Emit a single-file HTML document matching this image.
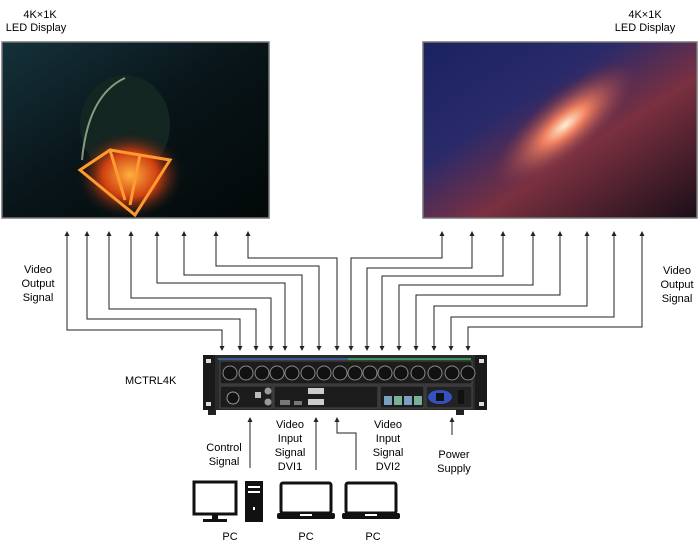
<!DOCTYPE html>
<html><head><meta charset="utf-8"><style>
body{margin:0;background:#fff;width:700px;height:545px;overflow:hidden;font-family:"Liberation Sans",sans-serif}
svg{display:block}
</style></head><body>
<svg width="700" height="545" viewBox="0 0 700 545" xmlns="http://www.w3.org/2000/svg" font-family="Liberation Sans, sans-serif">
<defs>
<radialGradient id="fire" cx="0.5" cy="0.5" r="0.5">
<stop offset="0" stop-color="#ffb040"/><stop offset="0.5" stop-color="#d04010"/><stop offset="1" stop-color="#0a1518" stop-opacity="0"/>
</radialGradient>
<linearGradient id="lbg" x1="0" y1="0" x2="1" y2="1">
<stop offset="0" stop-color="#15313a"/><stop offset="0.5" stop-color="#081418"/><stop offset="1" stop-color="#030808"/>
</linearGradient>
<linearGradient id="rbg" x1="0" y1="0" x2="1" y2="1">
<stop offset="0" stop-color="#1a2260"/><stop offset="0.35" stop-color="#2a2a6a"/><stop offset="0.6" stop-color="#7a3040"/><stop offset="1" stop-color="#1a0e18"/>
</linearGradient>
<radialGradient id="glow" cx="0.5" cy="0.5" r="0.5">
<stop offset="0" stop-color="#fff0d0"/><stop offset="0.3" stop-color="#f08060"/><stop offset="1" stop-color="#803040" stop-opacity="0"/>
</radialGradient>
<marker id="ar" markerWidth="5" markerHeight="5" refX="4" refY="2.5" orient="auto-start-reverse" markerUnits="userSpaceOnUse"><path d="M0,0 L5,2.5 L0,5 z" fill="#222"/></marker>
</defs>

<text x="40" y="18" font-size="11" text-anchor="middle">4K×1K</text>
<text x="36" y="31" font-size="11" text-anchor="middle">LED Display</text>
<text x="645" y="18" font-size="11" text-anchor="middle">4K×1K</text>
<text x="645" y="31" font-size="11" text-anchor="middle">LED Display</text>

<rect x="2" y="42" width="267" height="176" fill="url(#lbg)" stroke="#777" stroke-width="1.5"/>
<ellipse cx="125" cy="125" rx="45" ry="50" fill="#142622"/>
<path d="M82,160 Q88,95 125,78" stroke="#8a9a80" stroke-width="2" fill="none"/>
<ellipse cx="130" cy="175" rx="55" ry="45" fill="url(#fire)"/>
<path d="M80,170 L110,150 L170,160 L135,215 Z M110,150 L125,200 M140,155 L130,205" fill="none" stroke="#ff9a30" stroke-width="3"/>

<rect x="423" y="42" width="274" height="176" fill="url(#rbg)" stroke="#777" stroke-width="1.5"/>
<ellipse cx="565" cy="125" rx="90" ry="32" transform="rotate(-40 565 125)" fill="url(#glow)"/>

<text x="38" y="273" font-size="11" text-anchor="middle">Video</text>
<text x="38" y="287" font-size="11" text-anchor="middle">Output</text>
<text x="38" y="301" font-size="11" text-anchor="middle">Signal</text>
<text x="677" y="274" font-size="11" text-anchor="middle">Video</text>
<text x="677" y="288" font-size="11" text-anchor="middle">Output</text>
<text x="677" y="302" font-size="11" text-anchor="middle">Signal</text>

<g stroke="#222" stroke-width="1" fill="none" marker-start="url(#ar)" marker-end="url(#ar)">
<polyline points="67,232 67,330 222,330 222,350"/>
<polyline points="87,232 87,319 240,319 240,350"/>
<polyline points="109,232 109,309 256,309 256,350"/>
<polyline points="131,232 131,298 271,298 271,350"/>
<polyline points="157,232 157,283 285,283 285,350"/>
<polyline points="184,232 184,275 302,275 302,350"/>
<polyline points="216,232 216,266 319,266 319,350"/>
<polyline points="248,232 248,258 337,258 337,350"/>
<polyline points="442,232 442,258 351,258 351,350"/>
<polyline points="472,232 472,268 367,268 367,350"/>
<polyline points="503,232 503,276 382,276 382,350"/>
<polyline points="533,232 533,285 399,285 399,350"/>
<polyline points="560,232 560,295 416,295 416,350"/>
<polyline points="587,232 587,306 434,306 434,350"/>
<polyline points="614,232 614,317 451,317 451,350"/>
<polyline points="642,232 642,327 468,327 468,350"/>
</g>

<text x="125" y="384" font-size="11">MCTRL4K</text>

<!-- device -->
<rect x="208" y="409" width="8" height="6" fill="#222"/>
<rect x="456" y="409" width="8" height="6" fill="#222"/>
<rect x="203" y="355" width="284" height="55" fill="#2a2a2a"/>
<rect x="203" y="355" width="12" height="55" fill="#1a1a1a"/>
<rect x="475" y="355" width="12" height="55" fill="#1a1a1a"/>
<rect x="206" y="359" width="5" height="4" fill="#ddd"/><rect x="206" y="402" width="5" height="4" fill="#ddd"/>
<rect x="479" y="359" width="5" height="4" fill="#ddd"/><rect x="479" y="402" width="5" height="4" fill="#ddd"/>
<rect x="218" y="358" width="130" height="2" fill="#3a5a9a"/>
<rect x="348" y="358" width="123" height="2" fill="#3a9a5a"/>
<rect x="220" y="361" width="252" height="23" fill="#1c1c1c" stroke="#555" stroke-width="0.8"/>
<g fill="#111" stroke="#888" stroke-width="1">
<circle cx="230" cy="373" r="7"/><circle cx="246" cy="373" r="7"/><circle cx="262" cy="373" r="7"/><circle cx="277" cy="373" r="7"/>
<circle cx="292" cy="373" r="7"/><circle cx="308" cy="373" r="7"/><circle cx="324" cy="373" r="7"/><circle cx="340" cy="373" r="7"/>
<circle cx="355" cy="373" r="7"/><circle cx="370" cy="373" r="7"/><circle cx="385" cy="373" r="7"/><circle cx="401" cy="373" r="7"/>
<circle cx="418" cy="373" r="7"/><circle cx="435" cy="373" r="7"/><circle cx="452" cy="373" r="7"/><circle cx="468" cy="373" r="7"/>
</g>
<rect x="220" y="386" width="52" height="22" fill="#1c1c1c" stroke="#555" stroke-width="0.8"/>
<circle cx="233" cy="398" r="6" fill="#111" stroke="#999"/>
<rect x="255" y="392" width="6" height="6" fill="#bbb"/>
<circle cx="268" cy="391" r="3.5" fill="#999"/><circle cx="268" cy="402" r="3.5" fill="#999"/>
<rect x="274" y="386" width="104" height="22" fill="#1c1c1c" stroke="#555" stroke-width="0.8"/>
<rect x="280" y="400" width="10" height="5" fill="#777"/><rect x="294" y="401" width="8" height="4" fill="#777"/>
<rect x="308" y="388" width="16" height="6" fill="#ccc"/><rect x="308" y="399" width="16" height="6" fill="#ccc"/>
<rect x="380" y="386" width="44" height="22" fill="#1c1c1c" stroke="#555" stroke-width="0.8"/>
<rect x="384" y="396" width="8" height="9" fill="#7aa0c0"/><rect x="394" y="396" width="8" height="9" fill="#7ab098"/>
<rect x="404" y="396" width="8" height="9" fill="#7aa0c0"/><rect x="414" y="396" width="8" height="9" fill="#7ab098"/>
<rect x="426" y="386" width="46" height="22" fill="#222" stroke="#555" stroke-width="0.8"/>
<ellipse cx="440" cy="397" rx="12" ry="7" fill="#3550c0"/><rect x="436" y="393" width="8" height="8" fill="#111"/>
<rect x="458" y="390" width="6" height="14" fill="#111"/>

<!-- bottom -->
<g stroke="#222" stroke-width="1" fill="none" marker-end="url(#ar)">
<line x1="250" y1="468" x2="250" y2="418"/>
<line x1="316" y1="470" x2="316" y2="418"/>
<polyline points="356,470 356,433 337,433 337,418"/>
<line x1="452" y1="435" x2="452" y2="418"/>
</g>
<g font-size="11" text-anchor="middle">
<text x="224" y="451">Control</text><text x="224" y="465">Signal</text>
<text x="290" y="428">Video</text><text x="290" y="442">Input</text><text x="290" y="456">Signal</text><text x="290" y="470">DVI1</text>
<text x="388" y="428">Video</text><text x="388" y="442">Input</text><text x="388" y="456">Signal</text><text x="388" y="470">DVI2</text>
<text x="454" y="458">Power</text><text x="454" y="472">Supply</text>
<text x="230" y="540">PC</text><text x="306" y="540">PC</text><text x="373" y="540">PC</text>
</g>
<!-- PC icons -->
<rect x="194" y="482" width="42" height="32" fill="none" stroke="#111" stroke-width="3"/>
<rect x="212" y="514" width="6" height="5" fill="#111"/><rect x="203" y="519" width="24" height="3" fill="#111"/>
<rect x="245" y="481" width="18" height="41" fill="#111"/>
<rect x="248" y="486" width="12" height="2" fill="#fff"/><rect x="248" y="491" width="12" height="2" fill="#fff"/>
<rect x="253" y="507" width="2" height="3" fill="#fff"/>
<rect x="281" y="483" width="50" height="30" rx="2" fill="none" stroke="#111" stroke-width="3"/>
<rect x="277" y="513" width="58" height="6" rx="2" fill="#111"/><rect x="300" y="514" width="12" height="2" fill="#fff"/>
<rect x="346" y="483" width="50" height="30" rx="2" fill="none" stroke="#111" stroke-width="3"/>
<rect x="342" y="513" width="58" height="6" rx="2" fill="#111"/><rect x="365" y="514" width="12" height="2" fill="#fff"/>
</svg>
</body></html>
